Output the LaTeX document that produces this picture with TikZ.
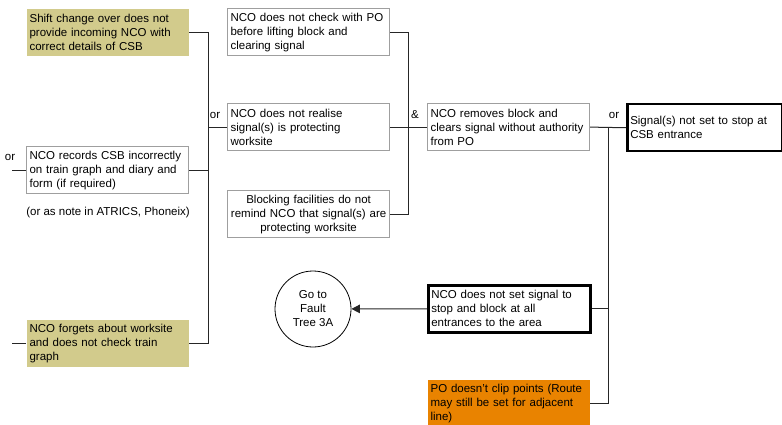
\documentclass[tikz,border=0pt]{standalone}
\usepackage{fontspec}
\setmainfont{Liberation Sans}
\usetikzlibrary{arrows.meta,positioning}
\definecolor{olivefill}{HTML}{D2CB8C}
\definecolor{orangefill}{HTML}{E98300}
\begin{document}
\begin{tikzpicture}[x=1pt,y=-1pt,
  font=\fontsize{11.5}{14}\selectfont,
  box/.style={draw=gray!75,line width=1.2pt,anchor=north west,align=left,
              text width=156pt,minimum height=47pt,inner xsep=3pt,inner ysep=2pt},
  thickbox/.style={box,draw=black,line width=2.5pt},
  olivebox/.style={box,draw=none,fill=olivefill},
  orangebox/.style={box,draw=none,fill=orangefill},
  wire/.style={line width=1pt,black!85},
  arr/.style={wire,-{Triangle[length=3mm,width=3mm]}},
  gate/.style={inner sep=1pt}]
\useasboundingbox (0,0) rectangle (782,425);
\coordinate (busA) at (208,0);
\coordinate (busB) at (408,0);
\coordinate (busC) at (608,0);
\node[olivebox] (shift) at (26,8) {Shift change over does not\\provide incoming NCO with\\correct details of CSB};
\node[box] (records) at (26,146) {NCO records CSB incorrectly\\on train graph and diary and\\form (if required)};
\node (note) at (108,213) {(or as note in ATRICS, Phoneix)};
\node[olivebox] (forget) at (26,319) {NCO forgets about worksite\\and does not check train\\graph};
\node[box] (check) at (227,8) {NCO does not check with PO\\before lifting block and\\clearing signal};
\node[box] (realise) at (227,103) {NCO does not realise\\signal(s) is protecting\\worksite};
\node[box,align=center] (blocking) at (227,190) {Blocking facilities do not\\remind NCO that signal(s) are\\protecting worksite};
\node[box] (removes) at (427,103) {NCO removes block and\\clears signal without authority\\from PO};
\node[thickbox,text width=149pt] (signal) at (626,103) {Signal(s) not set to stop at\\CSB entrance};
\node[thickbox] (notset) at (427,284) {NCO does not set signal to\\stop and block at all\\entrances to the area};
\node[orangebox] (po) at (427,379) {PO doesn't clip points (Route\\may still be set for adjacent\\line)};
\node[draw,circle,minimum size=76pt,inner sep=0pt,align=center,line width=0.8pt] (goto) at (313,309) {Go to\\Fault\\Tree 3A};
\node[gate] (g0) at (10,157) {or};
\node[gate] (g1) at (215,115) {or};
\node[gate] (g2) at (415,115) {\&};
\node[gate] (g3) at (614,115) {or};
\draw[wire] (shift.east) -| (busA |- forget.east) -- (forget.east);
\draw[wire] (records.east) -- (records.east -| busA);
\draw[wire] (realise.west) -- (realise.west -| busA);
\draw[wire] (records.west) -- ++(-14,0);
\draw[wire] (forget.west) -- ++(-14,0);
\draw[wire] (check.east) -| (busB |- blocking.east) -- (blocking.east);
\draw[wire] (realise.east) -- (removes.west);
\draw[wire] (removes.east) -- (signal.west);
\draw[wire] (removes.east -| busC) |- (po.east);
\draw[wire] (notset.east) -- (notset.east -| busC);
\draw[arr] (notset.west) -- (goto);
\end{tikzpicture}
\end{document}
